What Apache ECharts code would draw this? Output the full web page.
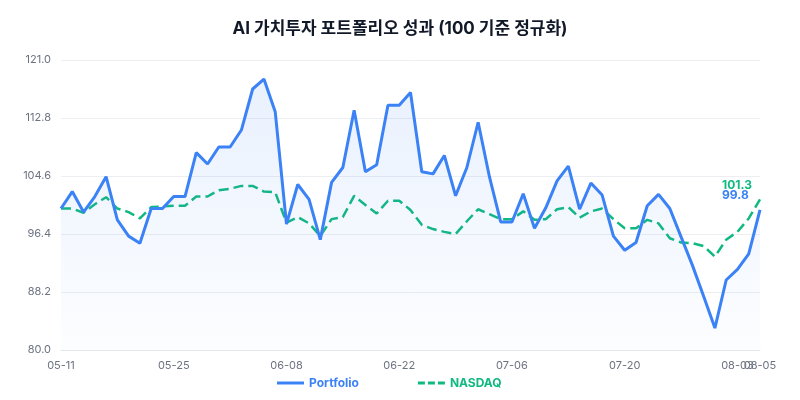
<!DOCTYPE html>
<html>
<head>
<meta charset="utf-8">
<script src="https://cdn.jsdelivr.net/npm/echarts@6/dist/echarts.min.js"></script>
<style>
  html, body { margin: 0; padding: 0; background: #fff; }
  #chart { width: 800px; height: 400px; }
</style>
</head>
<body>
<div id="chart"></div>
<script>
// 날짜 (평일만)
var dates = [
  '05-11','05-12','05-13','05-14','05-15',
  '05-18','05-19','05-20','05-21','05-22',
  '05-25','05-26','05-27','05-28','05-29',
  '06-01','06-02','06-03','06-04','06-05',
  '06-08','06-09','06-10','06-11','06-12',
  '06-15','06-16','06-17','06-18','06-19',
  '06-22','06-23','06-24','06-25','06-26',
  '06-29','06-30','07-01','07-02','07-03',
  '07-06','07-07','07-08','07-09','07-10',
  '07-13','07-14','07-15','07-16','07-17',
  '07-20','07-21','07-22','07-23','07-24',
  '07-27','07-28','07-29','07-30','07-31',
  '08-03','08-04','08-05'
];

// x축 라벨을 찍을 인덱스
var labelIdx = [0, 10, 20, 30, 40, 50, 60, 62];

var portfolio = [
  100.0, 102.4, 99.5, 101.7, 104.5, 98.4, 96.1, 95.1, 100.0, 100.0,
  101.7, 101.7, 107.9, 106.3, 108.7, 108.7, 111.1, 116.9, 118.3, 113.7,
  97.8, 103.4, 101.3, 95.6, 103.7, 105.8, 113.9, 105.2, 106.2, 114.6,
  114.6, 116.4, 105.2, 104.9, 107.5, 101.8, 105.8, 112.2, 104.5, 98.1,
  98.1, 102.1, 97.2, 100.1, 103.9, 106.0, 99.9, 103.6, 101.9, 96.1,
  94.1, 95.2, 100.4, 102.0, 100.0, 96.0, 92.0, 87.6, 83.1, 89.9,
  91.4, 93.6, 99.8
];

var nasdaq = [
  100.0, 100.0, 99.4, 100.6, 101.6, 100.0, 99.5, 98.6, 100.2, 100.3,
  100.4, 100.4, 101.7, 101.7, 102.6, 102.8, 103.2, 103.2, 102.4, 102.3,
  98.0, 98.8, 97.9, 96.1, 98.5, 98.8, 101.8, 100.5, 99.3, 101.1,
  101.1, 99.8, 97.7, 97.1, 96.7, 96.4, 98.2, 99.9, 99.2, 98.5,
  98.5, 99.6, 98.4, 98.5, 99.9, 100.2, 98.7, 99.6, 100.0, 98.5,
  97.2, 97.2, 98.4, 97.9, 95.8, 95.2, 95.1, 94.7, 93.2, 95.6,
  96.7, 98.6, 101.3
];

var yMin = 80.0;
var yMax = 121.0;
var yStep = 8.2;

var BLUE = '#3b82f6';
var GREEN = '#10b981';
var FONT = 'Inter, "Noto Sans CJK KR", sans-serif';

var myChart = echarts.init(document.getElementById('chart'));

var option = {
  backgroundColor: '#ffffff',
  textStyle: { fontFamily: FONT },
  title: {
    text: 'AI 가치투자 포트폴리오 성과 (100 기준 정규화)',
    left: 'center',
    top: 15,
    textStyle: { fontSize: 17, fontWeight: 'bold', color: '#111827', fontFamily: FONT }
  },
  legend: {
    bottom: 6,
    left: 272,
    itemGap: 59,
    itemWidth: 27,
    itemHeight: 3,
    data: [
      // 범례 아이콘: 실선 / 점선
      { name: 'Portfolio', icon: 'path://M0,0h27v3h-27z', textStyle: { color: BLUE } },
      { name: 'NASDAQ', icon: 'path://M0,0h7v3h-7z M10,0h7v3h-7z M20,0h7v3h-7z', textStyle: { color: GREEN } }
    ],
    textStyle: { fontSize: 12, fontWeight: 'bold', fontFamily: FONT }
  },
  grid: {
    left: 61,
    right: 40,
    top: 60,
    bottom: 50
  },
  xAxis: {
    type: 'category',
    data: dates,
    boundaryGap: false,
    axisLine: { lineStyle: { color: '#e5e7eb' } },
    axisTick: { show: false },
    axisLabel: {
      interval: 0,
      customValues: labelIdx,
      hideOverlap: false,
      color: '#6b7280',
      fontSize: 11,
      margin: 10
    }
  },
  yAxis: {
    type: 'value',
    min: yMin,
    max: yMax,
    interval: yStep,
    axisLine: { show: false },
    axisTick: { show: false },
    splitLine: { lineStyle: { color: '#eceef2' } },
    axisLabel: {
      color: '#6b7280',
      fontSize: 11,
      margin: 10,
      formatter: function (v) { return v.toFixed(1); }
    }
  },
  series: [
    {
      name: 'Portfolio',
      type: 'line',
      data: portfolio,
      showSymbol: false,
      symbol: 'none',
      lineStyle: { width: 3, color: BLUE },
      itemStyle: { color: BLUE },
      areaStyle: {
        color: new echarts.graphic.LinearGradient(0, 0, 0, 1, [
          { offset: 0, color: 'rgba(59,130,246,0.16)' },
          { offset: 1, color: 'rgba(59,130,246,0.02)' }
        ])
      },
      endLabel: {
        show: true,
        formatter: function (p) { return p.value.toFixed(1); },
        color: BLUE,
        fontSize: 12,
        fontWeight: 'bold',
        offset: [-46, -15]
      },
      z: 3
    },
    {
      name: 'NASDAQ',
      type: 'line',
      data: nasdaq,
      showSymbol: false,
      symbol: 'none',
      lineStyle: { width: 2.5, color: GREEN, type: 'dashed' },
      itemStyle: { color: GREEN },
      endLabel: {
        show: true,
        formatter: function (p) { return p.value.toFixed(1); },
        color: GREEN,
        fontSize: 12,
        fontWeight: 'bold',
        offset: [-46, -14]
      },
      z: 2
    }
  ]
};

myChart.setOption(option);
</script>
</body>
</html>
